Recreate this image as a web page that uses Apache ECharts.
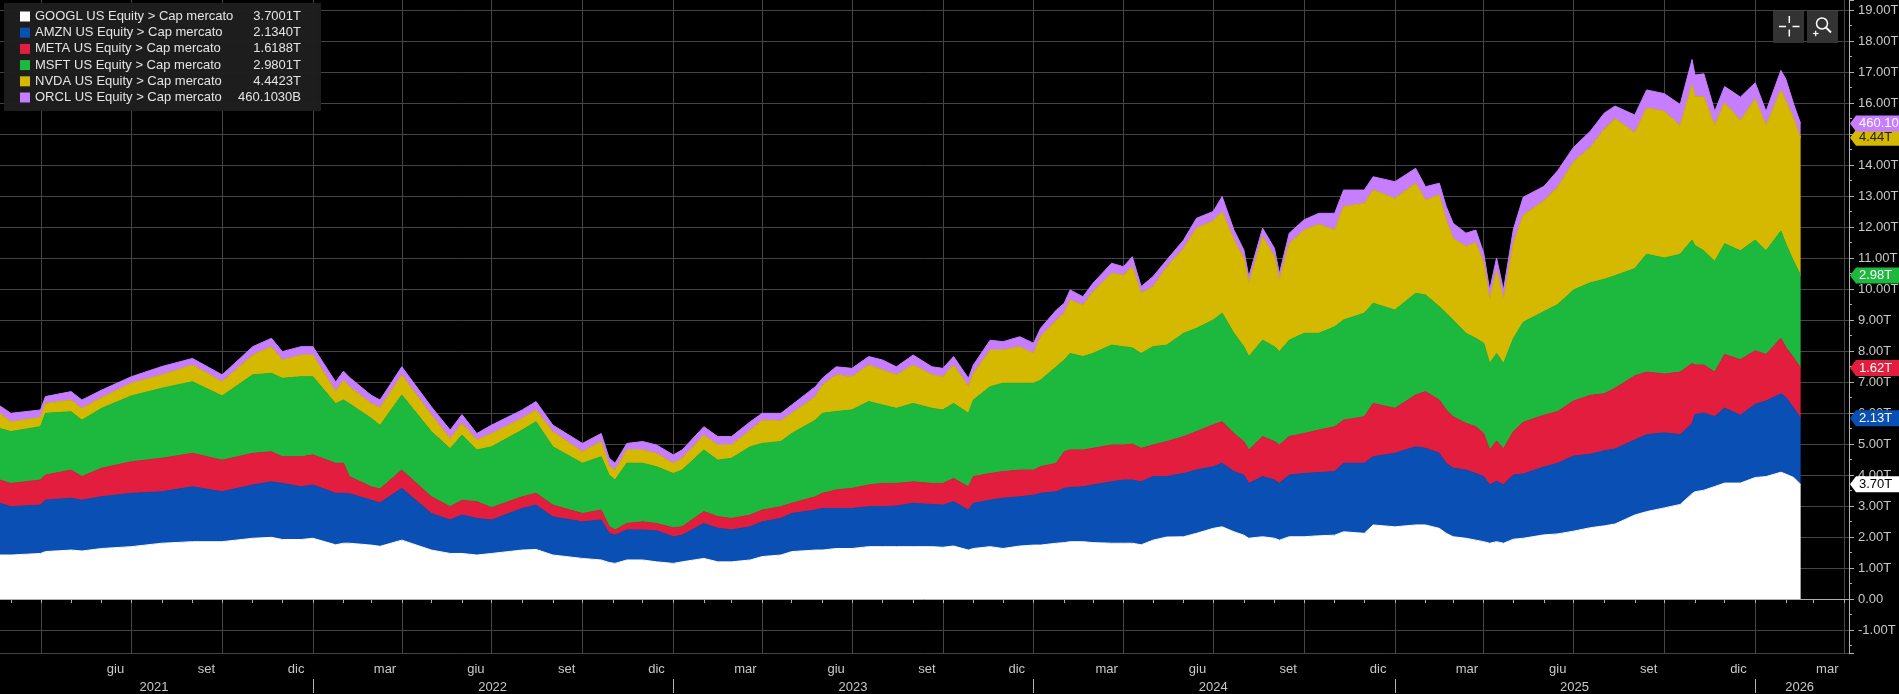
<!DOCTYPE html>
<html lang="it">

<head>
    <meta charset="UTF-8">
    <title>Cap mercato</title>
    <style>
        * {
            margin: 0;
            padding: 0;
        }

        body {
            background: #000;
        }

        .mychart {
            width: 1899px;
            height: 694px;
        }
    </style>
</head>

<body>
    <div class="mychart"></div>
</body>
<script src="https://cdn.jsdelivr.net/npm/echarts@6/dist/echarts.min.js"></script>
<script>
    // sample dates
    const dates = [
        '2021-02-18', '2021-03-01', '2021-03-31', '2021-04-05', '2021-05-01', '2021-05-12', '2021-06-01', '2021-07-01', '2021-08-01', '2021-09-01', '2021-10-01', '2021-11-01', '2021-11-20', '2021-12-01', '2021-12-20',
        '2022-01-01', '2022-01-24', '2022-02-01', '2022-02-07', '2022-03-01', '2022-03-10', '2022-04-01', '2022-05-01', '2022-05-20', '2022-06-01', '2022-06-16', '2022-07-01', '2022-08-01', '2022-08-15', '2022-09-01', '2022-10-01', '2022-10-20', '2022-10-28', '2022-11-03', '2022-11-15', '2022-12-01', '2022-12-15',
        '2023-01-01', '2023-01-10', '2023-02-01', '2023-02-15', '2023-03-01', '2023-03-20', '2023-04-01', '2023-04-20', '2023-05-01', '2023-05-25', '2023-06-01', '2023-06-15', '2023-07-01', '2023-07-18', '2023-08-01', '2023-08-15', '2023-09-01', '2023-09-20', '2023-10-01', '2023-10-12', '2023-10-27', '2023-11-01', '2023-11-18', '2023-12-01', '2023-12-18',
        '2024-01-01', '2024-01-08', '2024-01-24', '2024-02-01', '2024-02-07', '2024-02-20', '2024-03-01', '2024-03-20', '2024-04-01', '2024-04-10', '2024-04-19', '2024-05-01', '2024-05-15', '2024-06-01', '2024-06-14', '2024-07-01', '2024-07-10', '2024-07-22', '2024-08-01', '2024-08-06', '2024-08-20', '2024-09-01', '2024-09-06', '2024-09-16', '2024-10-01', '2024-10-16', '2024-11-01', '2024-11-10', '2024-12-01', '2024-12-10',
        '2025-01-01', '2025-01-22', '2025-02-01', '2025-02-15', '2025-02-22', '2025-03-01', '2025-03-14', '2025-03-24', '2025-04-01', '2025-04-07', '2025-04-14', '2025-04-21', '2025-05-01', '2025-05-11', '2025-06-01', '2025-06-15', '2025-07-01', '2025-07-18', '2025-08-01', '2025-08-12', '2025-09-01', '2025-09-13', '2025-10-01', '2025-10-17', '2025-10-29', '2025-11-01', '2025-11-10', '2025-11-21', '2025-12-01', '2025-12-17',
        '2026-01-01', '2026-01-12', '2026-01-27', '2026-02-01', '2026-02-09', '2026-02-16'
    ]

    // market caps, trillions USD
    const googl = [
        1.42, 1.42, 1.47, 1.53, 1.58, 1.55, 1.63, 1.69, 1.80, 1.85, 1.85, 1.96, 1.99, 1.92, 1.92,
        1.96, 1.75, 1.80, 1.80, 1.74, 1.70, 1.90, 1.58, 1.47, 1.47, 1.42, 1.47, 1.58, 1.60, 1.42, 1.31, 1.26, 1.18, 1.15, 1.26, 1.26, 1.20,
        1.15, 1.20, 1.31, 1.20, 1.20, 1.26, 1.37, 1.42, 1.53, 1.58, 1.58, 1.63, 1.63, 1.69, 1.69, 1.69, 1.69, 1.69, 1.67, 1.71, 1.58, 1.63, 1.69, 1.63, 1.71,
        1.74, 1.74, 1.80, 1.82, 1.85, 1.85, 1.82, 1.80, 1.80, 1.80, 1.75, 1.90, 2.00, 2.01, 2.12, 2.28, 2.33, 2.17, 2.06, 1.96, 2.01, 1.96, 1.90, 2.01, 2.01, 2.04, 2.06, 2.17, 2.12, 2.39,
        2.33, 2.39, 2.39, 2.28, 2.12, 2.01, 1.96, 1.90, 1.85, 1.80, 1.85, 1.80, 1.93, 1.96, 2.07, 2.10, 2.19, 2.30, 2.36, 2.42, 2.71, 2.82, 2.94, 3.05, 3.40, 3.46, 3.51, 3.63, 3.74, 3.74,
        3.92, 3.95, 4.09, 4.03, 3.92, 3.7001
    ]
    const amzn = [
        1.67, 1.56, 1.56, 1.66, 1.67, 1.64, 1.67, 1.72, 1.66, 1.77, 1.61, 1.72, 1.79, 1.81, 1.70,
        1.72, 1.66, 1.61, 1.60, 1.45, 1.40, 1.67, 1.18, 1.08, 1.24, 1.18, 1.08, 1.34, 1.43, 1.23, 1.18, 1.29, 0.94, 0.91, 0.97, 0.97, 1.00,
        0.86, 0.86, 1.13, 1.08, 1.03, 1.07, 1.12, 1.18, 1.23, 1.29, 1.34, 1.29, 1.29, 1.29, 1.29, 1.31, 1.40, 1.36, 1.36, 1.43, 1.29, 1.46, 1.50, 1.62, 1.59,
        1.61, 1.67, 1.66, 1.75, 1.75, 1.77, 1.86, 1.98, 2.04, 2.04, 2.03, 2.05, 1.95, 2.04, 2.04, 1.99, 2.05, 1.94, 1.94, 1.77, 1.94, 1.88, 1.83, 1.99, 2.04, 2.04, 2.05, 2.21, 2.26, 2.20,
        2.37, 2.52, 2.47, 2.42, 2.26, 2.21, 2.20, 2.15, 2.10, 1.88, 1.95, 1.88, 2.07, 2.07, 2.19, 2.28, 2.42, 2.37, 2.42, 2.42, 2.42, 2.48, 2.42, 2.25, 2.25, 2.49, 2.49, 2.25, 2.42, 2.19,
        2.36, 2.44, 2.53, 2.48, 2.24, 2.1340
    ]
    const meta = [
        0.75, 0.75, 0.81, 0.81, 0.91, 0.76, 0.92, 1.02, 1.08, 1.08, 1.02, 1.02, 0.97, 0.86, 0.97,
        0.97, 0.97, 0.97, 0.55, 0.43, 0.45, 0.59, 0.54, 0.43, 0.48, 0.54, 0.40, 0.38, 0.38, 0.38, 0.27, 0.32, 0.23, 0.17, 0.21, 0.26, 0.24,
        0.29, 0.27, 0.38, 0.38, 0.37, 0.38, 0.38, 0.38, 0.33, 0.43, 0.49, 0.60, 0.65, 0.70, 0.75, 0.73, 0.69, 0.68, 0.70, 0.75, 0.75, 0.86, 0.86, 0.86, 0.86,
        0.81, 0.86, 0.92, 1.18, 1.21, 1.19, 1.18, 1.19, 1.13, 1.16, 1.08, 1.02, 1.13, 1.19, 1.24, 1.35, 1.34, 1.23, 1.08, 1.08, 1.29, 1.24, 1.24, 1.24, 1.29, 1.37, 1.45, 1.39, 1.50, 1.72,
        1.45, 1.67, 1.83, 1.72, 1.72, 1.66, 1.51, 1.51, 1.39, 1.13, 1.30, 1.17, 1.40, 1.67, 1.67, 1.67, 1.78, 1.90, 1.84, 1.96, 2.07, 2.02, 1.90, 2.02, 1.95, 1.60, 1.55, 1.44, 1.73, 1.79,
        1.73, 1.50, 1.79, 1.61, 1.62, 1.6188
    ]
    const msft = [
        1.66, 1.67, 1.72, 1.99, 1.88, 1.82, 1.93, 2.12, 2.26, 2.31, 2.07, 2.53, 2.53, 2.53, 2.58,
        2.52, 1.92, 2.04, 2.35, 2.21, 2.05, 2.42, 2.10, 1.87, 2.10, 1.67, 1.96, 2.15, 2.31, 1.88, 1.62, 1.72, 1.65, 1.61, 1.94, 1.89, 1.83,
        1.75, 1.83, 1.99, 1.82, 1.94, 2.20, 2.15, 2.10, 2.25, 2.47, 2.58, 2.53, 2.53, 2.69, 2.53, 2.42, 2.53, 2.42, 2.37, 2.42, 2.37, 2.47, 2.80, 2.85, 2.80,
        2.80, 2.79, 3.11, 2.96, 3.11, 3.01, 3.06, 3.22, 3.17, 3.10, 3.06, 3.17, 3.11, 3.33, 3.33, 3.38, 3.50, 3.23, 3.06, 3.01, 3.11, 3.06, 3.01, 3.11, 3.23, 3.12, 3.22, 3.23, 3.34, 3.23,
        3.17, 3.28, 3.12, 3.01, 3.12, 3.12, 2.90, 2.85, 2.91, 2.79, 2.82, 2.75, 3.00, 3.23, 3.34, 3.45, 3.58, 3.63, 3.69, 3.63, 3.46, 3.80, 3.74, 3.80, 3.98, 3.85, 3.68, 3.57, 3.57, 3.51,
        3.57, 3.34, 3.46, 3.34, 3.11, 2.9801
    ]
    const nvda = [
        0.49, 0.32, 0.30, 0.32, 0.38, 0.38, 0.35, 0.41, 0.43, 0.54, 0.46, 0.64, 0.86, 0.59, 0.70,
        0.70, 0.40, 0.64, 0.55, 0.48, 0.57, 0.65, 0.54, 0.33, 0.38, 0.32, 0.43, 0.38, 0.38, 0.49, 0.37, 0.49, 0.30, 0.32, 0.43, 0.43, 0.43,
        0.33, 0.38, 0.48, 0.49, 0.43, 0.54, 0.75, 0.67, 0.65, 0.76, 0.91, 1.18, 1.07, 1.18, 1.13, 1.08, 1.24, 1.08, 1.07, 1.24, 0.86, 0.86, 1.18, 1.07, 1.18,
        0.96, 1.40, 1.51, 1.51, 1.73, 1.66, 1.99, 2.31, 2.31, 2.62, 1.94, 1.94, 2.53, 2.74, 3.23, 3.20, 3.27, 3.01, 2.85, 2.36, 3.34, 2.90, 2.31, 3.12, 3.33, 3.52, 3.12, 3.66, 3.54, 3.65,
        3.60, 3.55, 3.06, 3.60, 3.01, 2.63, 2.80, 3.09, 2.58, 2.05, 2.68, 2.05, 3.06, 3.45, 3.58, 3.80, 4.14, 4.37, 4.84, 5.07, 4.38, 4.72, 4.73, 4.15, 5.02, 4.80, 4.97, 4.38, 4.55, 4.21,
        4.55, 4.04, 4.55, 4.61, 4.61, 4.4423
    ]
    const orcl = [
        0.24, 0.27, 0.24, 0.22, 0.27, 0.27, 0.24, 0.21, 0.27, 0.21, 0.22, 0.27, 0.27, 0.27, 0.27,
        0.27, 0.30, 0.29, 0.30, 0.26, 0.25, 0.26, 0.26, 0.27, 0.28, 0.21, 0.27, 0.27, 0.27, 0.21, 0.27, 0.26, 0.25, 0.22, 0.21, 0.27, 0.27,
        0.27, 0.27, 0.27, 0.27, 0.27, 0.27, 0.22, 0.24, 0.27, 0.32, 0.22, 0.26, 0.27, 0.27, 0.32, 0.26, 0.32, 0.26, 0.27, 0.27, 0.27, 0.27, 0.32, 0.27, 0.32,
        0.33, 0.27, 0.32, 0.32, 0.32, 0.27, 0.27, 0.33, 0.27, 0.32, 0.22, 0.32, 0.22, 0.27, 0.32, 0.30, 0.49, 0.32, 0.27, 0.22, 0.27, 0.27, 0.21, 0.33, 0.33, 0.35, 0.54, 0.53, 0.43, 0.43,
        0.54, 0.48, 0.43, 0.38, 0.43, 0.49, 0.43, 0.40, 0.32, 0.32, 0.40, 0.32, 0.46, 0.58, 0.46, 0.52, 0.46, 0.52, 0.52, 0.40, 0.57, 0.58, 0.57, 0.68, 0.80, 0.70, 0.74, 0.46, 0.52, 0.75,
        0.52, 0.46, 0.63, 0.70, 0.46, 0.460103
    ]

    const names = [
        'GOOGL US Equity > Cap mercato',
        'AMZN US Equity > Cap mercato',
        'META US Equity > Cap mercato',
        'MSFT US Equity > Cap mercato',
        'NVDA US Equity > Cap mercato',
        'ORCL US Equity > Cap mercato'
    ]
    const colors = ['#ffffff', '#0a50b4', '#e21d3e', '#1db93f', '#d5b800', '#c77dff']
    const tagTextColors = ['#000', '#fff', '#fff', '#fff', '#222', '#fff']
    const monthNames = { '03': 'mar', '06': 'giu', '09': 'set', '12': 'dic' }
    const yearLabelDays = ['2021-07-24', '2022-07-02', '2023-07-02', '2024-07-01', '2025-07-02', '2026-02-15']

    const FONT = '"Liberation Sans", Arial, sans-serif'
    const values = [googl, amzn, meta, msft, nvda, orcl]

    // one category per calendar day, 2021-02-18 .. 2026-04-06
    const days = []
    const startMs = Date.UTC(2021, 1, 18)
    for (let i = 0; i < 1874; i++) {
        days.push(new Date(startMs + i * 864e5).toISOString().slice(0, 10))
    }

    const fmtLegend = v => v >= 1 ? v.toFixed(4) + 'T' : (v * 1000).toFixed(4) + 'B'
    const fmtTag = v => v >= 1 ? v.toFixed(2) + 'T' : (v * 1000).toFixed(2) + 'B'

    const myChart = echarts.init(document.querySelector('.mychart'))

    const option = {
        backgroundColor: '#000',
        animation: false,
        grid: {
            left: 0,
            right: 50,
            top: 0,
            bottom: 41,
            containLabel: false,
            outerBoundsMode: 'none'
        },
        legend: {
            orient: 'vertical',
            left: 4,
            top: 3,
            padding: [6, 20, 6, 16],
            backgroundColor: 'rgba(30,30,30,0.96)',
            icon: 'rect',
            itemWidth: 10,
            itemHeight: 10,
            itemGap: 1.2,
            selectedMode: false,
            data: names,
            formatter: name => {
                const arr = values[names.indexOf(name)]
                return '{n|' + name + '}{v|' + fmtLegend(arr[arr.length - 1]) + '}'
            },
            textStyle: {
                color: '#e4e4e4',
                fontFamily: FONT,
                fontSize: 13,
                lineHeight: 15,
                rich: {
                    n: { width: 200, color: '#e4e4e4', fontFamily: FONT, fontSize: 13, lineHeight: 15 },
                    v: { width: 66, align: 'right', color: '#e4e4e4', fontFamily: FONT, fontSize: 13, lineHeight: 15 }
                }
            }
        },
        xAxis: [{
            type: 'category',
            data: days,
            boundaryGap: false,
            position: 'bottom',
            axisLine: { lineStyle: { color: '#b0b0b0', width: 1 } },
            axisTick: {
                interval: (i, v) => v.slice(8) === '01',
                length: 4,
                lineStyle: { color: '#b0b0b0' }
            },
            axisLabel: {
                // the first March is not labelled in the reference
                interval: (i, v) => v > '2021-05-01' && v.slice(8) === '15' && monthNames[v.slice(5, 7)] !== undefined,
                formatter: v => monthNames[v.slice(5, 7)] || '',
                color: '#c8c8c8',
                fontFamily: FONT,
                fontSize: 13,
                margin: 10
            },
            splitLine: {
                show: true,
                interval: (i, v) => /-(01|04|07|10)-01$/.test(v),
                lineStyle: { color: '#444' }
            }
        }, {
            type: 'category',
            data: days,
            boundaryGap: false,
            position: 'bottom',
            offset: 26,
            axisLine: { show: false },
            axisTick: {
                interval: (i, v) => v.slice(5) === '01-01',
                length: 14,
                lineStyle: { color: '#b0b0b0' }
            },
            axisLabel: {
                interval: (i, v) => yearLabelDays.indexOf(v) >= 0,
                formatter: v => v.slice(0, 4),
                color: '#c8c8c8',
                fontFamily: FONT,
                fontSize: 13,
                margin: 2
            },
            splitLine: { show: false }
        }],
        yAxis: {
            type: 'value',
            position: 'right',
            min: -1.74,
            max: 19.32,
            splitNumber: 21,
            axisLine: { show: true, lineStyle: { color: '#b0b0b0' } },
            axisTick: { show: true, length: 5, lineStyle: { color: '#b0b0b0' } },
            minorTick: { show: true, splitNumber: 2, length: 3, lineStyle: { color: '#b0b0b0' } },
            axisLabel: {
                showMinLabel: false,
                showMaxLabel: false,
                formatter: v => {
                    if (Math.abs(v - Math.round(v)) > 1e-6) return ''
                    return v === 0 ? '0.00' : v.toFixed(2) + 'T'
                },
                color: '#c8c8c8',
                fontFamily: FONT,
                fontSize: 13,
                margin: 9
            },
            splitLine: { show: true, showMaxLine: false, lineStyle: { color: '#444' } }
        },
        series: names.map((name, i) => ({
            name: name,
            type: 'line',
            stack: 'cap',
            color: colors[i],
            symbol: 'none',
            showSymbol: false,
            lineStyle: { width: 1, color: colors[i] },
            areaStyle: { color: colors[i], opacity: 1 },
            emphasis: { disabled: true },
            data: dates.map((d, k) => [d, values[i][k]])
        }))
    }

    myChart.setOption(option)

    // toolbar buttons, top right
    const buttons = [
        { type: 'rect', z: 50, shape: { x: 1773, y: 11, width: 31, height: 32 }, style: { fill: '#333' } },
        { type: 'rect', z: 50, shape: { x: 1807, y: 11, width: 31, height: 32 }, style: { fill: '#333' } },
        { type: 'line', z: 51, shape: { x1: 1779, y1: 26.5, x2: 1786, y2: 26.5 }, style: { stroke: '#fff', lineWidth: 1.5 } },
        { type: 'line', z: 51, shape: { x1: 1792.5, y1: 26.5, x2: 1799.5, y2: 26.5 }, style: { stroke: '#fff', lineWidth: 1.5 } },
        { type: 'line', z: 51, shape: { x1: 1789.3, y1: 16, x2: 1789.3, y2: 23 }, style: { stroke: '#fff', lineWidth: 1.5 } },
        { type: 'line', z: 51, shape: { x1: 1789.3, y1: 29.5, x2: 1789.3, y2: 36.5 }, style: { stroke: '#fff', lineWidth: 1.5 } },
        { type: 'circle', z: 51, shape: { cx: 1822, cy: 23.5, r: 5.5 }, style: { fill: 'none', stroke: '#fff', lineWidth: 1.5 } },
        { type: 'line', z: 51, shape: { x1: 1826, y1: 27.5, x2: 1831, y2: 32.5 }, style: { stroke: '#fff', lineWidth: 1.8 } },
        { type: 'line', z: 51, shape: { x1: 1813, y1: 33.5, x2: 1818.5, y2: 33.5 }, style: { stroke: '#fff', lineWidth: 1.2 } },
        { type: 'line', z: 51, shape: { x1: 1815.7, y1: 30.8, x2: 1815.7, y2: 36.3 }, style: { stroke: '#fff', lineWidth: 1.2 } }
    ]

    // last-value tags on the axis, placed at the stacked level
    const tags = []
    const tipX = 1850
    let level = 0
    values.forEach((arr, i) => {
        const v = arr[arr.length - 1]
        level += v
        const y = myChart.convertToPixel({ yAxisIndex: 0 }, level)
        tags.push({
            type: 'polygon',
            z: 60 + i * 2,
            shape: { points: [[tipX, y], [tipX + 6, y - 8], [1899, y - 8], [1899, y + 8], [tipX + 6, y + 8]] },
            style: { fill: colors[i] }
        }, {
            type: 'text',
            z: 61 + i * 2,
            x: tipX + 9,
            y: y,
            style: {
                text: fmtTag(v),
                fill: tagTextColors[i],
                font: '13px ' + FONT,
                verticalAlign: 'middle'
            }
        })
    })

    myChart.setOption({ graphic: buttons.concat(tags) })
</script>

</html>
